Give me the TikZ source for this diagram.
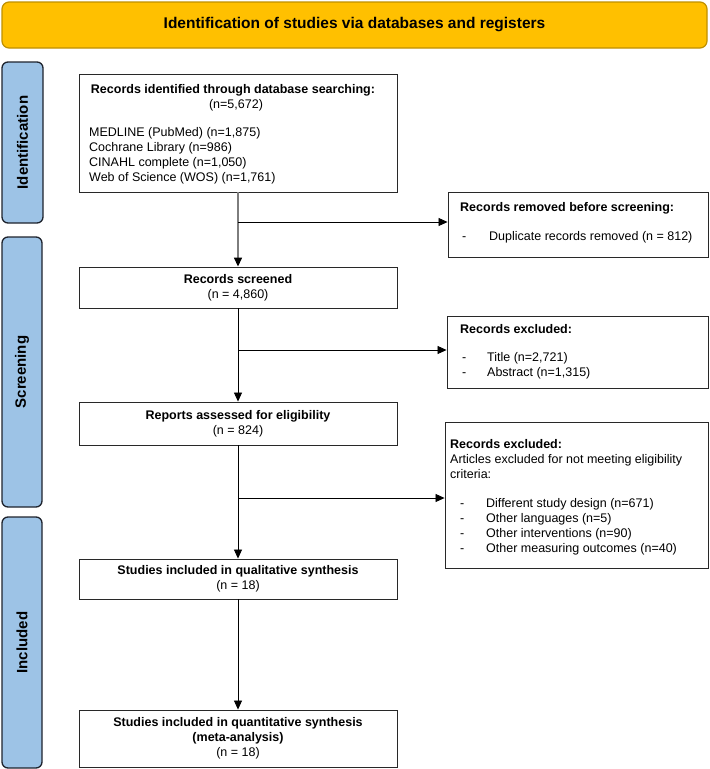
\documentclass[tikz,border=0pt]{standalone}
\usepackage{fontspec}
\setmainfont{Liberation Sans}
\usetikzlibrary{arrows.meta}
\definecolor{banfill}{RGB}{255,192,0}
\definecolor{bandraw}{RGB}{191,144,0}
\definecolor{sidefill}{RGB}{157,195,230}
\definecolor{sidedraw}{RGB}{30,35,45}
\definecolor{boxdraw}{RGB}{40,40,40}
\definecolor{linegray}{RGB}{125,125,125}
\newcommand{\dashitem}[2]{\makebox[#1][l]{-}#2}
\tikzset{
  banner/.style={draw=bandraw, fill=banfill, line width=1.2pt, rounded corners=7pt,
    font=\fontsize{15.5}{18}\selectfont\bfseries},
  side/.style={draw=sidedraw, fill=sidefill, line width=1.3pt, rounded corners=6pt,
    font=\fontsize{15}{18}\selectfont\bfseries, rotate=90, inner sep=0pt},
  box/.style={draw=boxdraw, line width=0.9pt, fill=white, inner sep=0pt,
    font=\fontsize{12.5}{15}\selectfont, align=center},
  txt/.style={font=\fontsize{12.5}{15}\selectfont, inner sep=0pt, align=left},
  hdr/.style={font=\fontsize{12.5}{15}\selectfont\bfseries, inner sep=0pt},
  arr/.style={-{Triangle[length=9pt,width=8pt]}, line width=0.8pt, black},
  arrgray/.style={-{Triangle[length=9pt,width=8pt,color=black]}, line width=1.4pt, draw=linegray}
}
\begin{document}
\begin{tikzpicture}[x=1pt,y=-1pt]
\useasboundingbox (0,0) rectangle (710,769);

% banner
\node[banner, minimum width=705pt, minimum height=46pt] (ban) at (354.5,25)
  {Identification of studies via databases and registers};

% side labels
\node[side, minimum width=161pt, minimum height=41pt] (sid) at (22.5,142.5) {Identification};
\node[side, minimum width=270pt, minimum height=40pt] (sscr) at (22,372) {Screening};
\node[side, minimum width=251pt, minimum height=40pt] (sinc) at (22,642.5) {Included};

% main column boxes
\node[box, minimum width=318pt, minimum height=118pt] (b1) at (238,133) {};
\node[hdr, anchor=base] (b1h) at (233,93.5) {Records identified through database searching:};
\node[txt, anchor=base] (b1n) at (236,108) {(n=5,672)};
\node[txt, anchor=north west] (b1l) at (89,127.4)
  {MEDLINE (PubMed) (n=1,875)\\Cochrane Library (n=986)\\CINAHL complete (n=1,050)\\Web of Science (WOS) (n=1,761)};

\node[box, minimum width=318pt, minimum height=41pt] (scr) at (238,287.5)
  {{\bfseries Records screened}\\(n = 4,860)};
\node[box, minimum width=318pt, minimum height=43pt] (rep) at (238,423.5)
  {{\bfseries Reports assessed for eligibility}\\(n = 824)};
\node[box, minimum width=318pt, minimum height=40pt] (qual) at (238,579)
  {{\bfseries Studies included in qualitative synthesis}\\(n = 18)};
\node[box, minimum width=318pt, minimum height=57pt] (quan) at (238,738.5)
  {{\bfseries Studies included in quantitative synthesis}\\{\bfseries (meta-analysis)}\\(n = 18)};

% right column boxes
\node[box, minimum width=260pt, minimum height=65pt] (rem) at (578,224.5) {};
\node[hdr, anchor=base west] (remh) at (460,211.5) {Records removed before screening:};
\node[txt, anchor=base west] (remt) at (462,240.5) {\dashitem{27pt}{Duplicate records removed (n = 812)}};

\node[box, minimum width=261pt, minimum height=72pt] (ex1) at (577.5,352) {};
\node[hdr, anchor=base west] (ex1h) at (460,333.5) {Records excluded:};
\node[txt, anchor=north west] (ex1t) at (462,352.2)
  {\dashitem{25pt}{Title (n=2,721)}\\\dashitem{25pt}{Abstract (n=1,315)}};

\node[box, minimum width=263pt, minimum height=146pt] (ex2) at (576.5,495) {};
\node[hdr, anchor=base west] (ex2h) at (450,448.5) {Records excluded:};
\node[txt, anchor=north west] (ex2a) at (450,454.2)
  {Articles excluded for not meeting eligibility\\criteria:};
\node[txt, anchor=north west] (ex2t) at (460,498.2)
  {\dashitem{26pt}{Different study design (n=671)}\\\dashitem{26pt}{Other languages (n=5)}\\\dashitem{26pt}{Other interventions (n=90)}\\\dashitem{26pt}{Other measuring outcomes (n=40)}};

% junctions
\coordinate (j1) at (238,222);
\coordinate (j2) at (238,350);
\coordinate (j3) at (238,498);

% connectors
\draw[arrgray] (b1.south) -- (scr.north);
\draw[arr] (j1) -- (j1 -| rem.west);
\draw[arr] (scr.south) -- (rep.north);
\draw[arr] (j2) -- (j2 -| ex1.west);
\draw[arr] (rep.south) -- (qual.north);
\draw[arr] (j3) -- (j3 -| ex2.west);
\draw[arr] (qual.south) -- (quan.north);
\end{tikzpicture}
\end{document}
